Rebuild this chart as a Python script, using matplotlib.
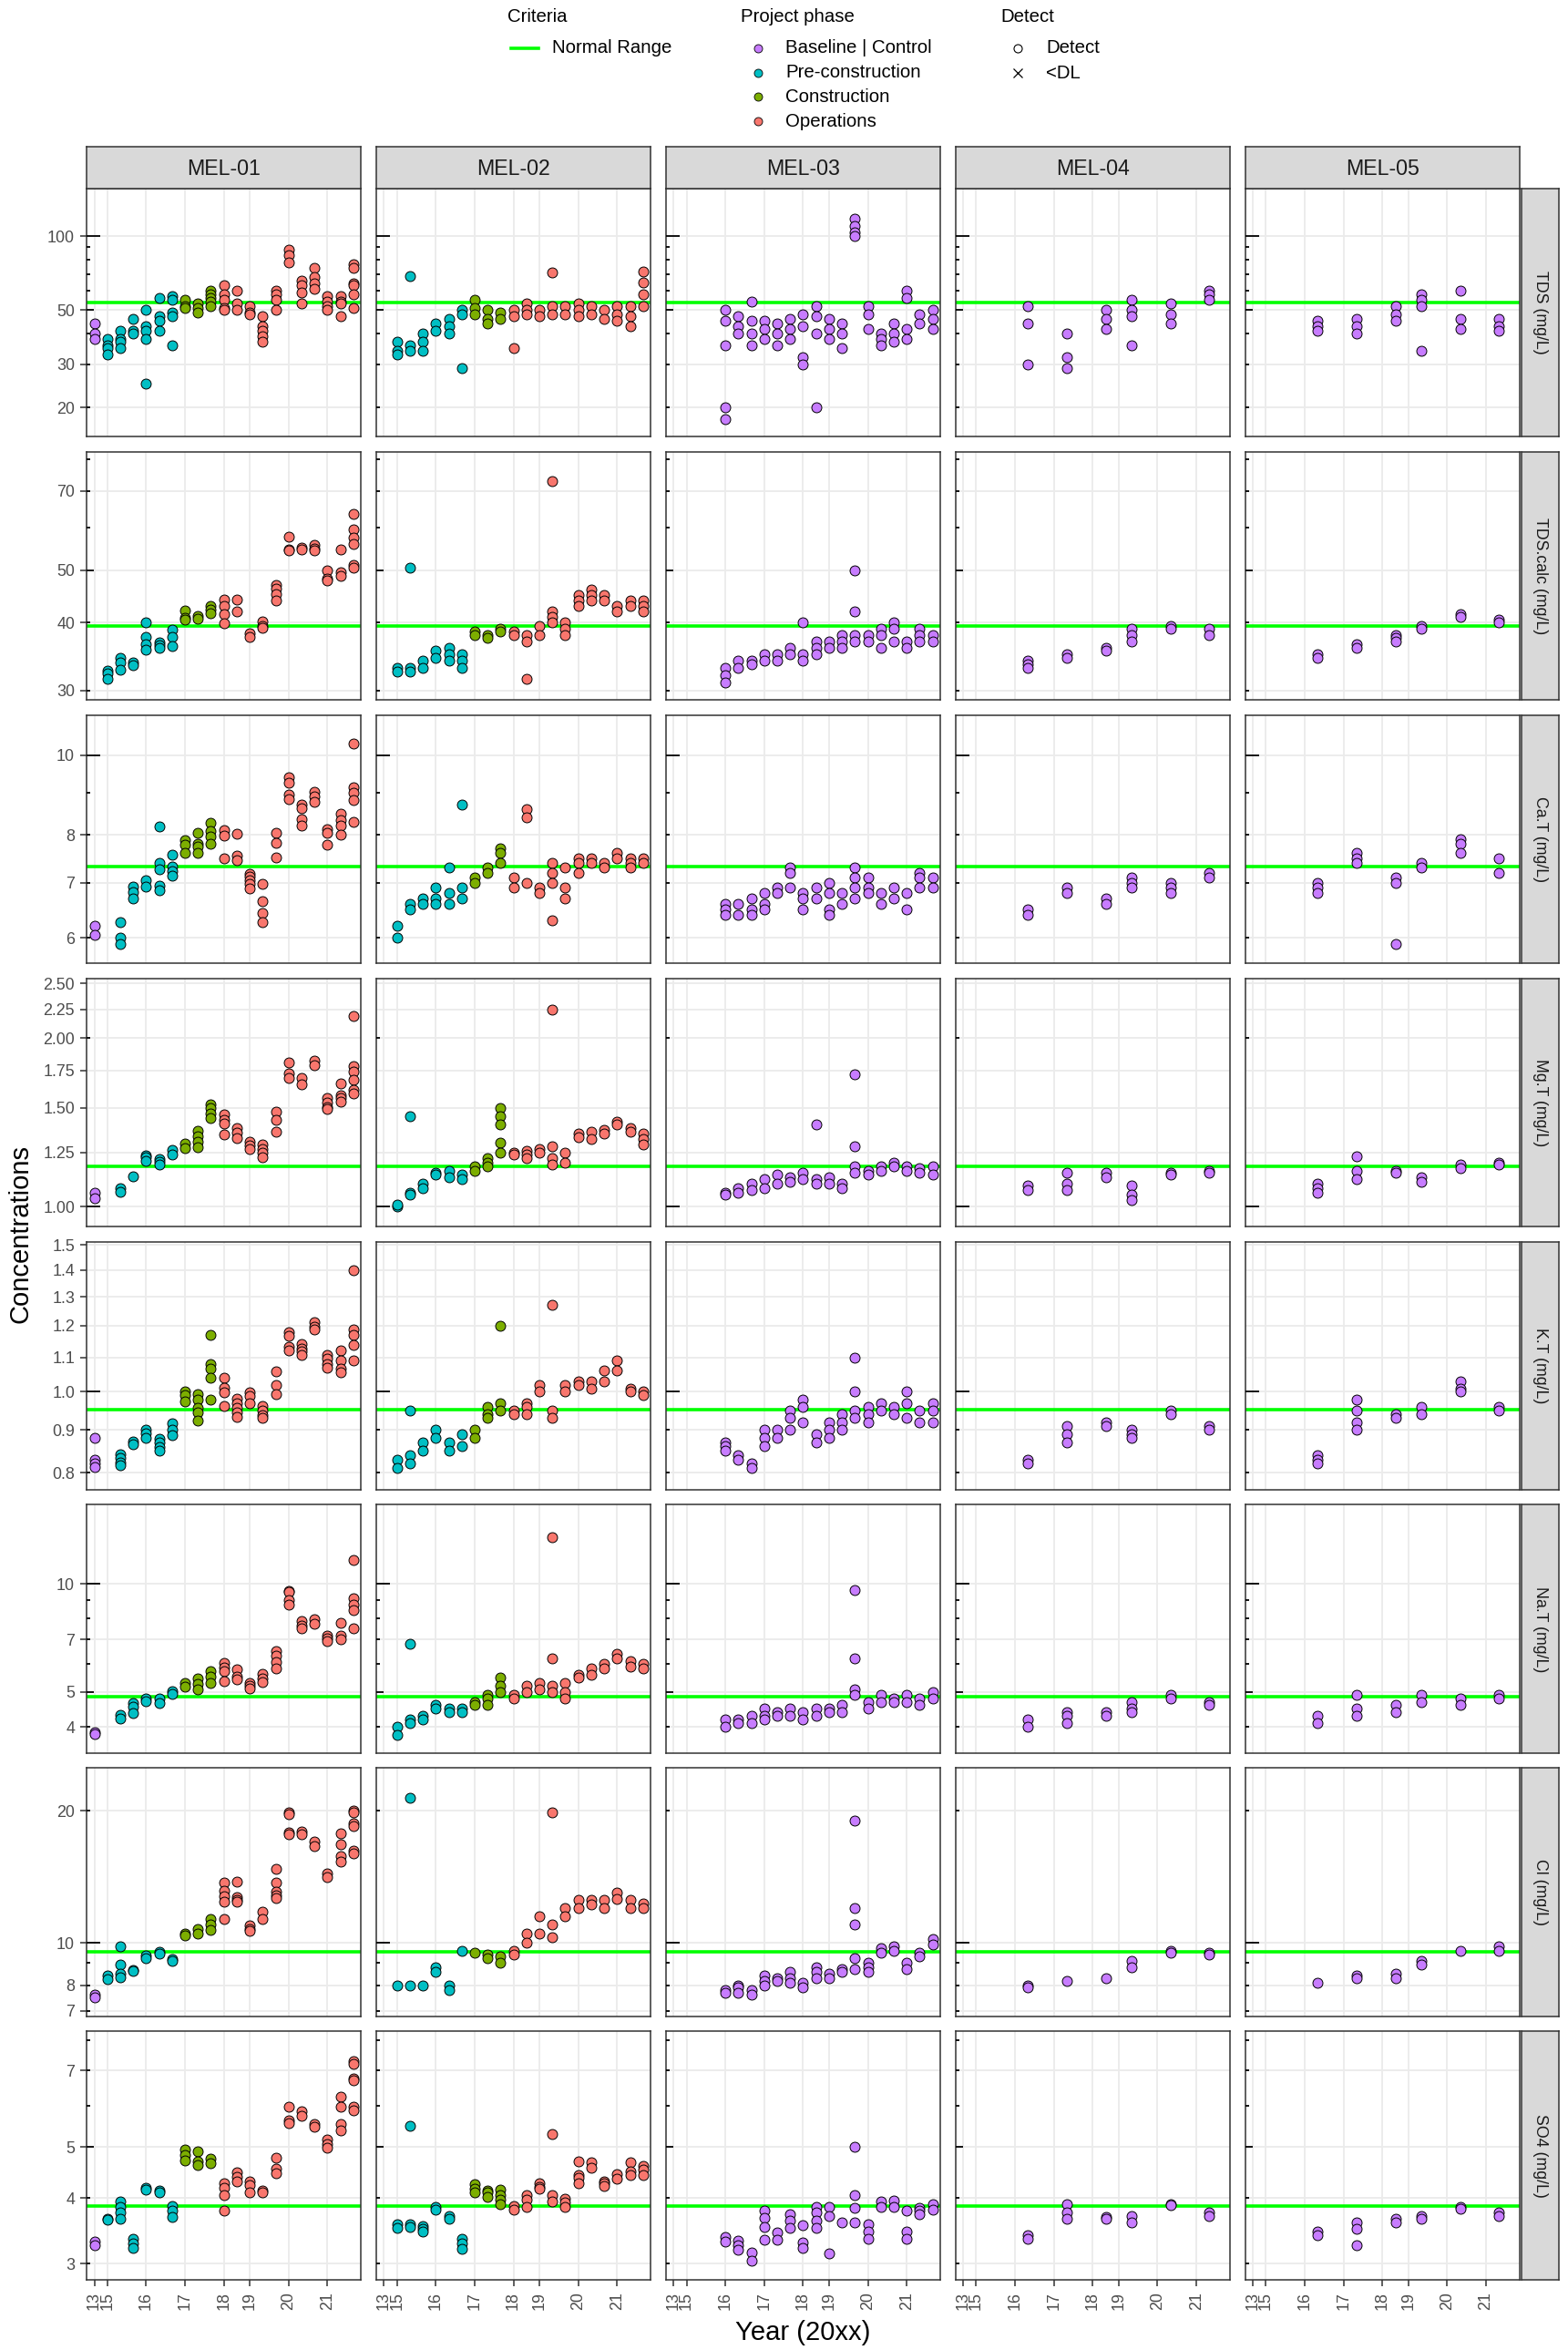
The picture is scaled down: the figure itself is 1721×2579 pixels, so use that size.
import matplotlib
matplotlib.use('Agg')
import numpy as np
import matplotlib.pyplot as plt
from matplotlib.ticker import NullLocator

plt.rcParams['font.family'] = ['Liberation Sans', 'DejaVu Sans']

W, H = 1721, 2579

sites = ['MEL-01', 'MEL-02', 'MEL-03', 'MEL-04', 'MEL-05']
# sampling events in order; the axis is discrete, one slot per event
events = ['2013', '2015a', '2015b', '2015c', '2016a', '2016b', '2016c',
          '2017a', '2017b', '2017c', '2018a', '2018b', '2019a', '2019b', '2019c',
          '2020a', '2020b', '2020c', '2021a', '2021b', '2021c']
year_ticks = [0, 1, 4, 7, 10, 12, 15, 18]
year_labels = ['13', '15', '16', '17', '18', '19', '20', '21']

phase_names = ['Baseline | Control', 'Pre-construction', 'Construction', 'Operations']
phase_colors = ['#C77CFF', '#00BFC4', '#7CAE00', '#F8766D']
phase_by_site = {
    'MEL-01': [0] + [1] * 6 + [2] * 3 + [3] * 11,
    'MEL-02': [1] * 7 + [2] * 3 + [3] * 11,
    'MEL-03': [0] * 21,
    'MEL-04': [0] * 21,
    'MEL-05': [0] * 21,
}

params = ['TDS (mg/L)', 'TDS.calc (mg/L)', 'Ca.T (mg/L)', 'Mg.T (mg/L)',
          'K.T (mg/L)', 'Na.T (mg/L)', 'Cl (mg/L)', 'SO4 (mg/L)']
normal_range = [53.8, 39.5, 7.33, 1.18, 0.953, 4.86, 9.55, 3.87]

# concentrations: site -> {event index: replicate values}
tds = {
    'MEL-01': {0: [44, 40, 38], 1: [38, 36, 35, 33], 2: [41, 38, 37, 35], 3: [46, 41, 40],
               4: [50, 43, 41, 38, 25], 5: [56, 47, 45, 41], 6: [57, 55, 49, 47, 36],
               7: [55, 52, 51], 8: [53, 51, 49], 9: [60, 58, 56, 54, 52],
               10: [63, 58, 55, 51, 50], 11: [60, 53, 50], 12: [52, 49, 48],
               13: [47, 43, 41, 39, 37], 14: [60, 58, 55, 50], 15: [88, 84, 78],
               16: [66, 63, 59, 53], 17: [74, 68, 64, 61], 18: [57, 54, 52, 50],
               19: [57, 54, 53, 47], 20: [77, 74, 64, 63, 58, 51]},
    'MEL-02': {1: [37, 34, 33], 2: [69, 36, 34], 3: [40, 37, 34], 4: [44, 41],
               5: [46, 43, 40], 6: [50, 48, 29], 7: [55, 51, 48], 8: [50, 46, 44],
               9: [49, 46], 10: [50, 47, 35], 11: [53, 50, 48], 12: [50, 47],
               13: [71, 52, 48], 14: [52, 48], 15: [53, 50, 47], 16: [52, 48],
               17: [50, 46], 18: [52, 48, 45], 19: [52, 47, 43], 20: [72, 65, 58, 52]},
    'MEL-03': {4: [50, 45, 36, 20, 18], 5: [47, 43, 40], 6: [54, 45, 40, 36],
               7: [45, 42, 38], 8: [44, 40, 36], 9: [46, 42, 38], 10: [48, 43, 32, 30],
               11: [52, 47, 40, 20], 12: [46, 42, 38], 13: [44, 40, 35],
               14: [118, 110, 104, 100], 15: [52, 48, 42], 16: [40, 38, 36],
               17: [44, 40, 37], 18: [60, 56, 42, 38], 19: [48, 44], 20: [50, 46, 42]},
    'MEL-04': {5: [52, 44, 30], 8: [40, 32, 29], 11: [50, 46, 42], 13: [55, 50, 47, 36],
               16: [53, 48, 44], 19: [60, 58, 55]},
    'MEL-05': {5: [45, 43, 41], 8: [46, 43, 40], 11: [52, 48, 45], 13: [58, 55, 52, 34],
               16: [60, 46, 42], 19: [46, 43, 41]},
}

tds_calc = {
    'MEL-01': {1: [32.6, 32.3, 31.5], 2: [34.4, 33.8, 32.7], 3: [33.8, 33.4],
               4: [40.0, 37.7, 36.5, 35.6], 5: [36.8, 36.3, 35.9], 6: [38.9, 37.6, 36.2],
               7: [42.2, 40.8, 40.5], 8: [41.1, 40.7], 9: [43.0, 42.3, 41.7],
               10: [44.1, 43.0, 41.4, 39.9], 11: [44.1, 41.9], 12: [38.3, 37.7],
               13: [40.2, 39.5, 39.2], 14: [46.9, 46.3, 45.1, 43.9], 15: [57.6, 54.6, 54.3],
               16: [55.0, 54.6], 17: [55.7, 54.9, 54.3], 18: [50.0, 48.2, 47.8],
               19: [54.5, 49.5, 48.7], 20: [63.5, 59.5, 57.4, 55.8, 51.2, 50.6]},
    'MEL-02': {1: [33, 32.5], 2: [50.5, 33, 32.5], 3: [34, 33], 4: [35.5, 34.5],
               5: [36, 35, 34], 6: [35, 34, 33], 7: [38.5, 38], 8: [38, 37.5],
               9: [39, 38.5], 10: [38.5, 38], 11: [38, 37, 31.5], 12: [39.5, 38],
               13: [73, 42, 41, 40], 14: [40, 39, 38], 15: [45, 44, 43], 16: [46, 45, 44],
               17: [45, 44], 18: [43, 42], 19: [44, 43], 20: [44, 43, 42]},
    'MEL-03': {4: [33, 32, 31], 5: [34, 33], 6: [34, 33.5], 7: [35, 34], 8: [35, 34],
               9: [36, 35], 10: [40, 35, 34], 11: [37, 36, 35], 12: [37, 36],
               13: [38, 37, 36], 14: [50, 42, 38, 37], 15: [38, 37], 16: [39, 38, 36],
               17: [40, 39, 37], 18: [37, 36], 19: [39, 38, 37], 20: [38, 37]},
    'MEL-04': {5: [34, 33.5, 33], 8: [35, 34.5], 11: [36, 35.5], 13: [39, 38, 37],
               16: [39.5, 39], 19: [39, 38]},
    'MEL-05': {5: [35, 34.5], 8: [36.5, 36], 11: [38, 37.5, 37], 13: [39.5, 39],
               16: [41.5, 41], 19: [40.5, 40]},
}

ca = {
    'MEL-01': {0: [6.21, 6.04], 2: [6.27, 6.00, 5.90], 3: [6.92, 6.81, 6.69], 4: [7.05, 6.92],
               5: [8.19, 7.40, 7.27, 6.94, 6.85], 6: [7.57, 7.32, 7.22, 7.13],
               7: [7.88, 7.78, 7.60], 8: [8.05, 7.80, 7.75, 7.61], 9: [8.27, 8.09, 7.96, 7.80],
               10: [8.10, 7.98, 7.49], 11: [8.02, 7.55, 7.45], 12: [7.18, 7.11, 7.05, 6.98, 6.89],
               13: [6.97, 6.64, 6.43, 6.27], 14: [8.05, 7.83, 7.52], 15: [9.41, 9.26, 8.95, 8.84],
               16: [8.71, 8.62, 8.37, 8.22], 17: [9.03, 8.91, 8.78], 18: [8.13, 8.05, 7.79],
               19: [8.49, 8.34, 8.22, 8.00], 20: [10.32, 9.15, 8.99, 8.82, 8.29]},
    'MEL-02': {1: [6.2, 6.0], 2: [6.6, 6.5], 3: [6.7, 6.6], 4: [6.9, 6.7, 6.6],
               5: [7.3, 6.8, 6.6], 6: [8.7, 6.9, 6.7], 7: [7.1, 7.0], 8: [7.3, 7.2],
               9: [7.7, 7.6, 7.4], 10: [7.1, 6.9], 11: [8.6, 8.4, 7.0], 12: [6.9, 6.8],
               13: [7.4, 7.2, 7.0, 6.3], 14: [7.3, 6.9, 6.7], 15: [7.5, 7.4, 7.2],
               16: [7.5, 7.4], 17: [7.4, 7.3], 18: [7.6, 7.5], 19: [7.5, 7.4, 7.3], 20: [7.5, 7.4]},
    'MEL-03': {4: [6.6, 6.5, 6.4], 5: [6.6, 6.4], 6: [6.7, 6.5, 6.4], 7: [6.8, 6.6, 6.5],
               8: [6.9, 6.8], 9: [7.3, 7.2, 6.9], 10: [6.8, 6.7, 6.5], 11: [6.9, 6.7],
               12: [7.0, 6.8, 6.5, 6.4], 13: [6.8, 6.6], 14: [7.3, 7.1, 6.9, 6.7],
               15: [7.1, 6.9, 6.8], 16: [6.8, 6.6], 17: [6.9, 6.7], 18: [6.8, 6.5],
               19: [7.2, 7.1, 6.9], 20: [7.1, 6.9]},
    'MEL-04': {5: [6.5, 6.4], 8: [6.9, 6.8], 11: [6.7, 6.6], 13: [7.1, 7.0, 6.9],
               16: [7.0, 6.9, 6.8], 19: [7.2, 7.1]},
    'MEL-05': {5: [7.0, 6.9, 6.8], 8: [7.6, 7.5, 7.4], 11: [7.1, 7.0, 5.9], 13: [7.4, 7.3],
               16: [7.9, 7.8, 7.6], 19: [7.5, 7.2]},
}

mg = {
    'MEL-01': {0: [1.059, 1.035], 2: [1.079, 1.062], 3: [1.134], 4: [1.236, 1.228, 1.207],
               5: [1.218, 1.202, 1.188], 6: [1.264, 1.240], 7: [1.296, 1.271],
               8: [1.367, 1.337, 1.307, 1.279], 9: [1.523, 1.501, 1.468, 1.437],
               10: [1.459, 1.431, 1.405, 1.348], 11: [1.379, 1.354, 1.328],
               12: [1.307, 1.288, 1.269], 13: [1.291, 1.269, 1.248, 1.228],
               14: [1.477, 1.427, 1.362], 15: [1.809, 1.726, 1.700], 16: [1.694, 1.651],
               17: [1.821, 1.785], 18: [1.562, 1.536, 1.508, 1.495],
               19: [1.657, 1.580, 1.562, 1.542], 20: [2.185, 1.780, 1.741, 1.687, 1.615, 1.592]},
    'MEL-02': {1: [1.00, 1.01], 2: [1.45, 1.06, 1.05], 3: [1.10, 1.08], 4: [1.15, 1.14],
               5: [1.16, 1.13], 6: [1.14, 1.12], 7: [1.18, 1.16], 8: [1.22, 1.20, 1.18],
               9: [1.50, 1.45, 1.40, 1.30, 1.25], 10: [1.25, 1.24], 11: [1.26, 1.24, 1.22],
               12: [1.27, 1.25], 13: [2.25, 1.28, 1.22, 1.19], 14: [1.25, 1.20],
               15: [1.35, 1.33], 16: [1.36, 1.32], 17: [1.37, 1.35], 18: [1.42, 1.40],
               19: [1.38, 1.36], 20: [1.35, 1.32, 1.29]},
    'MEL-03': {4: [1.06, 1.05], 5: [1.08, 1.06], 6: [1.10, 1.07], 7: [1.12, 1.08],
               8: [1.14, 1.10], 9: [1.13, 1.11], 10: [1.15, 1.12], 11: [1.40, 1.12, 1.10],
               12: [1.13, 1.10], 13: [1.10, 1.08], 14: [1.72, 1.28, 1.18, 1.15],
               15: [1.16, 1.14], 16: [1.18, 1.16], 17: [1.20, 1.18], 18: [1.18, 1.16],
               19: [1.17, 1.15], 20: [1.18, 1.14]},
    'MEL-04': {5: [1.09, 1.07], 8: [1.15, 1.10, 1.07], 11: [1.15, 1.13], 13: [1.09, 1.05, 1.03],
               16: [1.15, 1.14], 19: [1.16, 1.15]},
    'MEL-05': {5: [1.10, 1.08, 1.06], 8: [1.23, 1.16, 1.12], 11: [1.16, 1.15], 13: [1.13, 1.11],
               16: [1.19, 1.17], 19: [1.20, 1.19]},
}

k = {
    'MEL-01': {0: [0.880, 0.830, 0.820, 0.812], 2: [0.841, 0.834, 0.823, 0.816],
               3: [0.873, 0.866], 4: [0.901, 0.892, 0.880], 5: [0.878, 0.870, 0.858, 0.851],
               6: [0.918, 0.901, 0.888], 7: [1.000, 0.990, 0.974],
               8: [0.993, 0.978, 0.957, 0.945, 0.923], 9: [1.169, 1.081, 1.067, 1.041, 0.980],
               10: [1.041, 1.011, 0.998, 0.961], 11: [0.982, 0.969, 0.957, 0.945, 0.934],
               12: [0.998, 0.988, 0.969], 13: [0.961, 0.949, 0.938, 0.930],
               14: [1.059, 1.019, 0.993], 15: [1.180, 1.168, 1.132, 1.120],
               16: [1.141, 1.127, 1.118, 1.107], 17: [1.211, 1.198, 1.188],
               18: [1.108, 1.095, 1.081, 1.069], 19: [1.120, 1.090, 1.067, 1.056],
               20: [1.400, 1.188, 1.171, 1.139, 1.090]},
    'MEL-02': {1: [0.83, 0.81], 2: [0.95, 0.84, 0.82], 3: [0.87, 0.85], 4: [0.90, 0.88],
               5: [0.87, 0.85], 6: [0.89, 0.86], 7: [0.90, 0.88], 8: [0.96, 0.94, 0.93],
               9: [1.20, 0.97, 0.95], 10: [0.95, 0.94], 11: [0.97, 0.96, 0.94],
               12: [1.02, 1.00], 13: [1.27, 0.95, 0.93], 14: [1.02, 1.00], 15: [1.03, 1.02],
               16: [1.03, 1.01], 17: [1.06, 1.03], 18: [1.09, 1.06], 19: [1.01, 1.00],
               20: [1.00, 0.99]},
    'MEL-03': {4: [0.87, 0.86, 0.85], 5: [0.84, 0.83], 6: [0.82, 0.81], 7: [0.90, 0.88, 0.86],
               8: [0.90, 0.88], 9: [0.95, 0.93, 0.90], 10: [0.98, 0.96, 0.92], 11: [0.89, 0.87],
               12: [0.92, 0.90, 0.88], 13: [0.94, 0.92, 0.90], 14: [1.10, 1.00, 0.95, 0.93],
               15: [0.96, 0.94, 0.92], 16: [0.97, 0.95], 17: [0.96, 0.94],
               18: [1.00, 0.97, 0.93], 19: [0.95, 0.92], 20: [0.97, 0.95, 0.92]},
    'MEL-04': {5: [0.83, 0.82], 8: [0.91, 0.89, 0.87], 11: [0.92, 0.91], 13: [0.90, 0.89, 0.88],
               16: [0.95, 0.94], 19: [0.91, 0.90]},
    'MEL-05': {5: [0.84, 0.83, 0.82], 8: [0.98, 0.95, 0.92, 0.90], 11: [0.94, 0.93],
               13: [0.96, 0.94], 16: [1.03, 1.01, 1.00], 19: [0.96, 0.95]},
}

na = {
    'MEL-01': {0: [3.86, 3.82], 2: [4.32, 4.22], 3: [4.67, 4.54, 4.38], 4: [4.81, 4.72],
               5: [4.79, 4.65], 6: [5.02, 4.95], 7: [5.30, 5.17], 8: [5.44, 5.28, 5.10],
               9: [5.73, 5.51, 5.30], 10: [6.02, 5.84, 5.73, 5.35], 11: [5.78, 5.53, 5.41],
               12: [5.30, 5.20, 5.12], 13: [5.62, 5.46, 5.32], 14: [6.50, 6.31, 6.07, 5.82],
               15: [9.58, 9.49, 8.99, 8.78], 16: [7.89, 7.66, 7.52], 17: [7.97, 7.74],
               18: [7.16, 7.06, 6.93], 19: [7.77, 7.16, 7.02], 20: [11.63, 9.13, 8.78, 8.45, 7.52]},
    'MEL-02': {1: [4.0, 3.8], 2: [6.8, 4.2, 4.1], 3: [4.3, 4.2], 4: [4.6, 4.5], 5: [4.5, 4.4],
               6: [4.5, 4.4], 7: [4.7, 4.6], 8: [4.9, 4.8, 4.6], 9: [5.5, 5.2, 5.0],
               10: [4.9, 4.8], 11: [5.2, 5.0], 12: [5.3, 5.1], 13: [13.5, 6.2, 5.2, 5.0],
               14: [5.3, 5.0, 4.8], 15: [5.6, 5.5], 16: [5.8, 5.6], 17: [6.0, 5.8],
               18: [6.4, 6.2], 19: [6.1, 5.9], 20: [6.0, 5.8]},
    'MEL-03': {4: [4.2, 4.0], 5: [4.2, 4.1], 6: [4.3, 4.1], 7: [4.5, 4.3, 4.2], 8: [4.4, 4.3],
               9: [4.5, 4.3], 10: [4.4, 4.2], 11: [4.5, 4.3], 12: [4.5, 4.4], 13: [4.6, 4.4],
               14: [9.6, 6.2, 5.1, 4.9], 15: [4.7, 4.5], 16: [4.9, 4.7], 17: [4.8, 4.7],
               18: [4.9, 4.7], 19: [4.8, 4.6], 20: [5.0, 4.8]},
    'MEL-04': {5: [4.2, 4.0], 8: [4.4, 4.3, 4.1], 11: [4.4, 4.3], 13: [4.7, 4.5, 4.4],
               16: [4.9, 4.8], 19: [4.7, 4.6]},
    'MEL-05': {5: [4.3, 4.1], 8: [4.9, 4.5, 4.3], 11: [4.6, 4.4], 13: [4.9, 4.7],
               16: [4.8, 4.6], 19: [4.9, 4.8]},
}

cl = {
    'MEL-01': {0: [7.63, 7.51], 1: [8.40, 8.27], 2: [9.83, 8.90, 8.52, 8.33], 3: [8.68, 8.63],
               4: [9.34, 9.24], 5: [9.52, 9.46], 6: [9.19, 9.08], 7: [10.50, 10.38],
               8: [10.72, 10.50], 9: [11.33, 11.02, 10.71], 10: [13.72, 13.12, 12.77, 12.40, 11.33],
               11: [13.80, 12.73, 12.54, 12.40], 12: [10.93, 10.76, 10.63], 13: [11.77, 11.33],
               14: [14.72, 13.72, 13.06, 12.83, 12.65], 15: [19.81, 19.65, 17.85, 17.65],
               16: [17.9, 17.65], 17: [17.0, 16.6], 18: [14.39, 14.1],
               19: [17.77, 16.8, 15.77, 15.3], 20: [19.97, 19.78, 18.75, 18.45, 16.2, 15.97]},
    'MEL-02': {1: [8.0], 2: [21.4, 8.0], 3: [8.0], 4: [8.8, 8.6], 5: [8.0, 7.8], 6: [9.6],
               7: [9.5], 8: [9.4, 9.2], 9: [9.3, 9.0], 10: [9.6, 9.4], 11: [10.5, 10.0],
               12: [11.5, 10.5], 13: [19.8, 11.0, 10.3], 14: [12.0, 11.5], 15: [12.5, 12.0],
               16: [12.5, 12.2], 17: [12.5, 12.0], 18: [13.0, 12.6], 19: [12.5, 12.0],
               20: [12.3, 12.0]},
    'MEL-03': {4: [7.8, 7.7], 5: [8.0, 7.9, 7.7], 6: [7.8, 7.6], 7: [8.4, 8.2, 8.0],
               8: [8.3, 8.2], 9: [8.6, 8.3, 8.1], 10: [8.1, 7.9], 11: [8.8, 8.6, 8.3],
               12: [8.5, 8.3], 13: [8.7, 8.6], 14: [19.0, 12.0, 11.0, 9.2, 8.7],
               15: [9.0, 8.8, 8.6], 16: [9.7, 9.5], 17: [9.8, 9.6], 18: [9.0, 8.7],
               19: [9.5, 9.3], 20: [10.2, 9.9]},
    'MEL-04': {5: [8.0, 7.9], 8: [8.2], 11: [8.3], 13: [9.1, 8.8], 16: [9.6, 9.5], 19: [9.5, 9.4]},
    'MEL-05': {5: [8.1], 8: [8.4, 8.3], 11: [8.5, 8.3], 13: [9.1, 8.9], 16: [9.6], 19: [9.8, 9.6]},
}

so4 = {
    'MEL-01': {0: [3.31, 3.26], 1: [3.66, 3.64], 2: [3.94, 3.85, 3.76, 3.65], 3: [3.35, 3.28, 3.21],
               4: [4.18, 4.15], 5: [4.13, 4.10], 6: [3.86, 3.79, 3.69], 7: [4.94, 4.83, 4.72],
               8: [4.91, 4.70, 4.62], 9: [4.75, 4.66], 10: [4.27, 4.18, 4.05, 3.78],
               11: [4.47, 4.39, 4.30], 12: [4.31, 4.24, 4.10], 13: [4.14, 4.10],
               14: [4.78, 4.55, 4.46], 15: [5.96, 5.63, 5.55], 16: [5.84, 5.73],
               17: [5.54, 5.46], 18: [5.17, 5.06, 4.99], 19: [6.24, 5.98, 5.54, 5.37],
               20: [7.29, 7.21, 6.76, 6.69, 5.98, 5.88]},
    'MEL-02': {1: [3.57, 3.51], 2: [5.48, 3.57, 3.53], 3: [3.54, 3.49, 3.46], 4: [3.85, 3.80],
               5: [3.70, 3.66], 6: [3.34, 3.28, 3.20], 7: [4.25, 4.17, 4.10], 8: [4.14, 4.10, 4.02],
               9: [4.15, 4.05, 3.97, 3.90], 10: [3.87, 3.80], 11: [4.06, 3.97, 3.85],
               12: [4.27, 4.20, 4.17], 13: [5.30, 4.06, 3.94], 14: [3.99, 3.92, 3.85],
               15: [4.70, 4.42, 4.38, 4.27], 16: [4.67, 4.56], 17: [4.31, 4.27, 4.21],
               18: [4.45, 4.35], 19: [4.67, 4.49, 4.42], 20: [4.60, 4.54, 4.43]},
    'MEL-03': {4: [3.38, 3.31], 5: [3.32, 3.26, 3.19], 6: [3.15, 3.04], 7: [3.78, 3.67, 3.53, 3.33],
               8: [3.44, 3.33], 9: [3.72, 3.62, 3.51], 10: [3.55, 3.30, 3.22],
               11: [3.85, 3.76, 3.63, 3.51], 12: [3.85, 3.70, 3.14], 13: [3.59],
               14: [5.00, 4.06, 3.83, 3.59], 15: [3.56, 3.45, 3.35], 16: [3.94, 3.85],
               17: [3.96, 3.85], 18: [3.79, 3.45, 3.34], 19: [3.84, 3.79, 3.72], 20: [3.90, 3.80]},
    'MEL-04': {5: [3.40, 3.35], 8: [3.90, 3.75, 3.65], 11: [3.68, 3.65], 13: [3.70, 3.60],
               16: [3.90, 3.88], 19: [3.75, 3.70]},
    'MEL-05': {5: [3.45, 3.40], 8: [3.60, 3.50, 3.25], 11: [3.65, 3.60], 13: [3.70, 3.65],
               16: [3.85, 3.82], 19: [3.75, 3.70]},
}

data = [tds, tds_calc, ca, mg, k, na, cl, so4]

# y scale for each facet row (log10)
y_limits = [(15.2, 156.7), (28.8, 82.7), (5.585, 11.19), (0.922, 2.555),
            (0.763, 1.514), (3.378, 16.6), (6.79, 25.0), (2.797, 8.30)]
y_breaks = [[20, 30, 50, 100], [30, 40, 50, 70], [6, 7, 8, 10],
            [1.00, 1.25, 1.50, 1.75, 2.00, 2.25, 2.50],
            [0.8, 0.9, 1.0, 1.1, 1.2, 1.3, 1.4, 1.5], [4, 5, 7, 10], [7, 8, 10, 20], [3, 4, 5, 7]]
y_fmt = ['{:g}', '{:g}', '{:g}', '{:.2f}', '{:.1f}', '{:g}', '{:g}', '{:g}']

# panel geometry in pixels
col_left = [95, 412.9, 730.8, 1048.7, 1366.6]
pw = 301.4
row_top0, ph, row_pitch = 206.7, 272.6, 288.95
strip_top, strip_h = 161, 45.7
rstrip_left, rstrip_w = 1670, 41


def box(x0, y0, w, h):
    return [x0 / W, 1 - (y0 + h) / H, w / W, h / H]


def log_ticks(ax, lo, hi):
    tr = ax.get_yaxis_transform()
    for e in range(int(np.floor(np.log10(lo))), int(np.ceil(np.log10(hi))) + 1):
        for m in range(1, 10):
            v = m * 10.0 ** e
            if lo <= v <= hi:
                L = 15 if m == 1 else (8 if m == 5 else 4.3)
                ax.plot([0, L / pw], [v, v], transform=tr, color='black', lw=1.3,
                        solid_capstyle='butt', zorder=4)


fig = plt.figure(figsize=(W / 100, H / 100), dpi=100)

for r, param in enumerate(params):
    top = row_top0 + r * row_pitch
    for c, site in enumerate(sites):
        ax = fig.add_axes(box(col_left[c], top, pw, ph))
        ax.set_yscale('log')
        ax.axhline(normal_range[r], color='#00FF00', lw=2.6, zorder=2)
        for idx, vals in data[r][site].items():
            col = phase_colors[phase_by_site[site][idx]]
            ax.scatter([idx] * len(vals), vals, s=62, facecolor=col, edgecolor='black',
                       linewidths=0.7, zorder=3)
        log_ticks(ax, *y_limits[r])
        ax.set_xlim(-0.6, 20.6)
        ax.set_ylim(*y_limits[r])
        ax.set_yticks(y_breaks[r])
        ax.yaxis.set_minor_locator(NullLocator())
        ax.set_yticklabels([y_fmt[r].format(b) for b in y_breaks[r]])
        ax.set_xticks(year_ticks)
        ax.set_xticklabels(year_labels, rotation=90)
        ax.grid(True, color='#EBEBEB', lw=1.3)
        ax.set_axisbelow(True)
        for sp in ax.spines.values():
            sp.set_color('#333333')
            sp.set_linewidth(1.1)
        ax.tick_params(axis='y', length=5 if c == 0 else 0, width=1.1, color='#333333',
                       labelsize=12.9, labelcolor='#4D4D4D', pad=4.3, labelleft=(c == 0))
        last = r == len(params) - 1
        ax.tick_params(axis='x', length=5 if last else 0, width=1.1, color='#333333',
                       labelsize=12.9, labelcolor='#4D4D4D', pad=4.3, labelbottom=last)

        if r == 0:
            sax = fig.add_axes(box(col_left[c], strip_top, pw, strip_h))
            sax.set_facecolor('#D9D9D9')
            sax.set_xticks([])
            sax.set_yticks([])
            for sp in sax.spines.values():
                sp.set_color('#333333')
                sp.set_linewidth(1.1)
            sax.text(0.5, 0.47, site, ha='center', va='center', fontsize=16.7,
                     color='#1A1A1A', transform=sax.transAxes)

    rax = fig.add_axes(box(rstrip_left, top, rstrip_w, ph))
    rax.set_facecolor('#D9D9D9')
    rax.set_xticks([])
    rax.set_yticks([])
    for sp in rax.spines.values():
        sp.set_color('#333333')
        sp.set_linewidth(1.1)
    rax.text(0.5, 0.5, param, ha='center', va='center', rotation=-90, fontsize=12.8,
             color='#1A1A1A', transform=rax.transAxes)

# axis titles
fig.text(23 / W, 1 - 1354 / H, 'Concentrations', rotation=90, ha='center', va='center',
         fontsize=21, color='black')
fig.text(881 / W, 1 - 2560 / H, 'Year (20xx)', ha='center', va='center', fontsize=21,
         color='black')

# legend block above the panels
lax = fig.add_axes([0, 0, 1, 1])
lax.set_xlim(0, W)
lax.set_ylim(H, 0)
lax.axis('off')
fs = 14.7
lax.text(557, 19, 'Criteria', fontsize=fs, va='center', ha='left')
lax.plot([561, 591], [53, 53], color='#00FF00', lw=2.6)
lax.text(606, 53, 'Normal Range', fontsize=fs, va='center', ha='left')

lax.text(813, 19, 'Project phase', fontsize=fs, va='center', ha='left')
for i, (name, col) in enumerate(zip(phase_names, phase_colors)):
    y = 53 + i * 26.7
    lax.plot([832], [y], 'o', ms=6.5, mfc=col, mec='black', mew=0.6)
    lax.text(862, y, name, fontsize=fs, va='center', ha='left')

lax.text(1098, 19, 'Detect', fontsize=fs, va='center', ha='left')
lax.plot([1117], [53], 'o', ms=6.5, mfc='none', mec='black', mew=0.8)
lax.text(1148, 53, 'Detect', fontsize=fs, va='center', ha='left')
lax.plot([1117], [80], 'x', ms=7, mec='black', mew=0.9)
lax.text(1148, 80, '<DL', fontsize=fs, va='center', ha='left')

fig.savefig('out.png', dpi=100)
